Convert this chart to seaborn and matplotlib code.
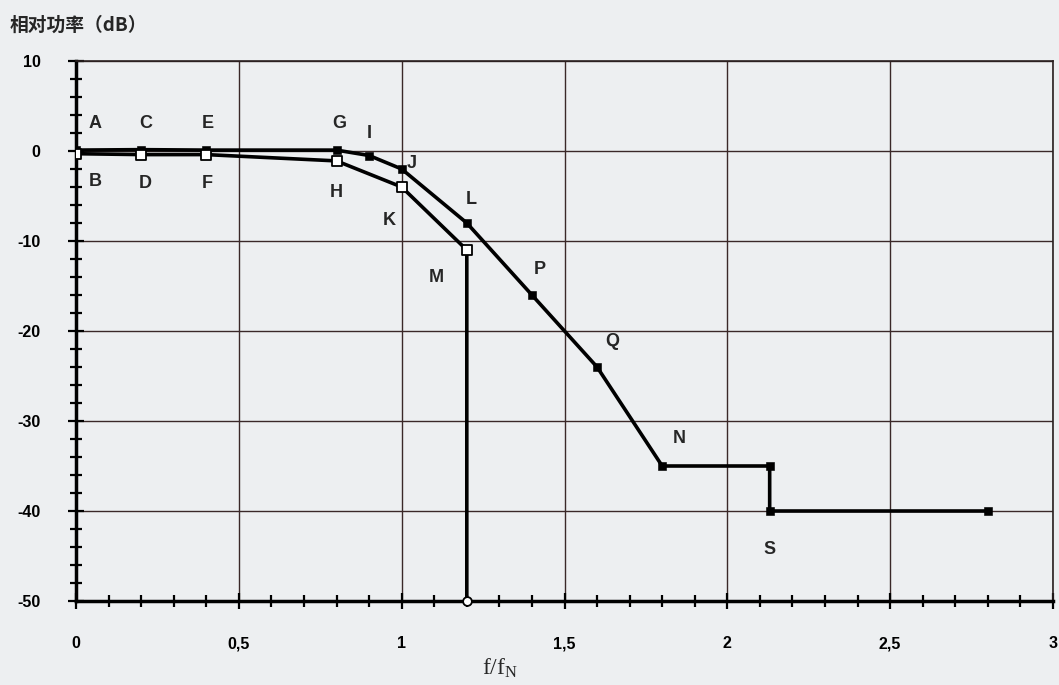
import pandas as pd
import matplotlib.pyplot as plt
import seaborn as sns
from matplotlib.ticker import MultipleLocator, FuncFormatter

# upper curve (filled squares)
upper_x = [0, 0.2, 0.4, 0.8, 0.9, 1.0, 1.2, 1.4, 1.6, 1.8, 2.13, 2.13, 2.8]
upper_y = [0.1, 0.15, 0.1, 0.1, -0.5, -2, -8, -16, -24, -35, -35, -40, -40]

# lower curve (open squares, ends with open circle)
lower_x = [0, 0.2, 0.4, 0.8, 1.0, 1.2, 1.2]
lower_y = [-0.3, -0.4, -0.4, -1.1, -4, -11, -50]

# point letters and their offsets in points
upper_labels = ['A', 'C', 'E', 'G', 'I', 'J', 'L', 'P', 'Q', 'N', '', 'S', '']
upper_offsets = [(14, 19), (3, 19), (1, 19), (2, 19), (0, 16), (7, 4),
                 (3, 17), (6, 18), (11, 18), (12, 20), (0, 0), (0, -28), (0, 0)]
lower_labels = ['B', 'D', 'F', 'H', 'K', 'M', '']
lower_offsets = [(14, -20), (3, -21), (1, -21), (0, -23), (-9, -24), (-22, -20), (0, 0)]

xticks = [0, 0.5, 1, 1.5, 2, 2.5, 3]
yticks = [10, 0, -10, -20, -30, -40, -50]

df_up = pd.DataFrame({'x': upper_x, 'y': upper_y})
df_lo = pd.DataFrame({'x': lower_x, 'y': lower_y})

sns.set_style('white')
plt.rcParams['font.family'] = ['Liberation Sans', 'DejaVu Sans']
plt.rcParams['axes.unicode_minus'] = False

bg = '#edeff1'
fig = plt.figure(figsize=(10.59, 6.85), dpi=100, facecolor=bg)
ax = fig.add_axes([76 / 1059, 1 - 601 / 685, (1053 - 76) / 1059, (601 - 61) / 685])
ax.set_facecolor(bg)

sns.lineplot(data=df_up, x='x', y='y', sort=False, estimator=None,
             color='black', linewidth=2.6, ax=ax, zorder=3)
sns.lineplot(data=df_lo, x='x', y='y', sort=False, estimator=None,
             color='black', linewidth=2.6, ax=ax, zorder=3)

sns.scatterplot(data=df_up, x='x', y='y', marker='s', s=28, color='black',
                edgecolor='black', ax=ax, zorder=4)
sns.scatterplot(data=df_lo.iloc[:-1], x='x', y='y', marker='s', s=45, color='white',
                edgecolor='black', linewidth=1.3, ax=ax, zorder=5)
sns.scatterplot(data=df_lo.iloc[-1:], x='x', y='y', marker='o', s=40, color='white',
                edgecolor='black', linewidth=1.3, ax=ax, zorder=5, clip_on=False)

for lab, xv, yv, off in zip(upper_labels + lower_labels, upper_x + lower_x,
                            upper_y + lower_y, upper_offsets + lower_offsets):
    if lab:
        ax.annotate(lab, xy=(xv, yv), xytext=off, textcoords='offset points',
                    ha='center', va='center', fontsize=13, fontweight='bold')

ax.set_xlim(0, 3)
ax.set_ylim(-50, 10)
ax.set_xticks(xticks)
ax.set_yticks(yticks)
ax.xaxis.set_minor_locator(MultipleLocator(0.1))
ax.yaxis.set_minor_locator(MultipleLocator(2))
ax.xaxis.set_major_formatter(FuncFormatter(lambda v, p: f'{v:g}'.replace('.', ',')))
ax.tick_params(axis='both', which='both', direction='inout', colors='black',
               labelsize=11.5, width=1.6, bottom=True, left=True)
ax.tick_params(axis='both', which='major', length=11, pad=20)
ax.tick_params(axis='both', which='minor', length=8)
for t in ax.get_xticklabels() + ax.get_yticklabels():
    t.set_fontweight('bold')

ax.grid(True, which='major', color='#3a2828', linewidth=1)
for side in ['left', 'bottom']:
    ax.spines[side].set_linewidth(2.5)
    ax.spines[side].set_color('black')
for side in ['top', 'right']:
    ax.spines[side].set_linewidth(1.2)
    ax.spines[side].set_color('#2a2020')

ax.set_xlabel('')
ax.set_ylabel('')
fig.text(10 / 1059, 1 - 25 / 685, '相对功率（dB）', fontsize=13.5, fontweight='bold',
         family=['Noto Sans CJK SC', 'DejaVu Sans'], ha='left', va='center')
fig.text(500 / 1059, 1 - 668 / 685, r'$\mathregular{f/f_N}$', fontsize=17,
         family=['Liberation Serif'], ha='center', va='center')

fig.savefig('out.png', dpi=100, facecolor=bg)
